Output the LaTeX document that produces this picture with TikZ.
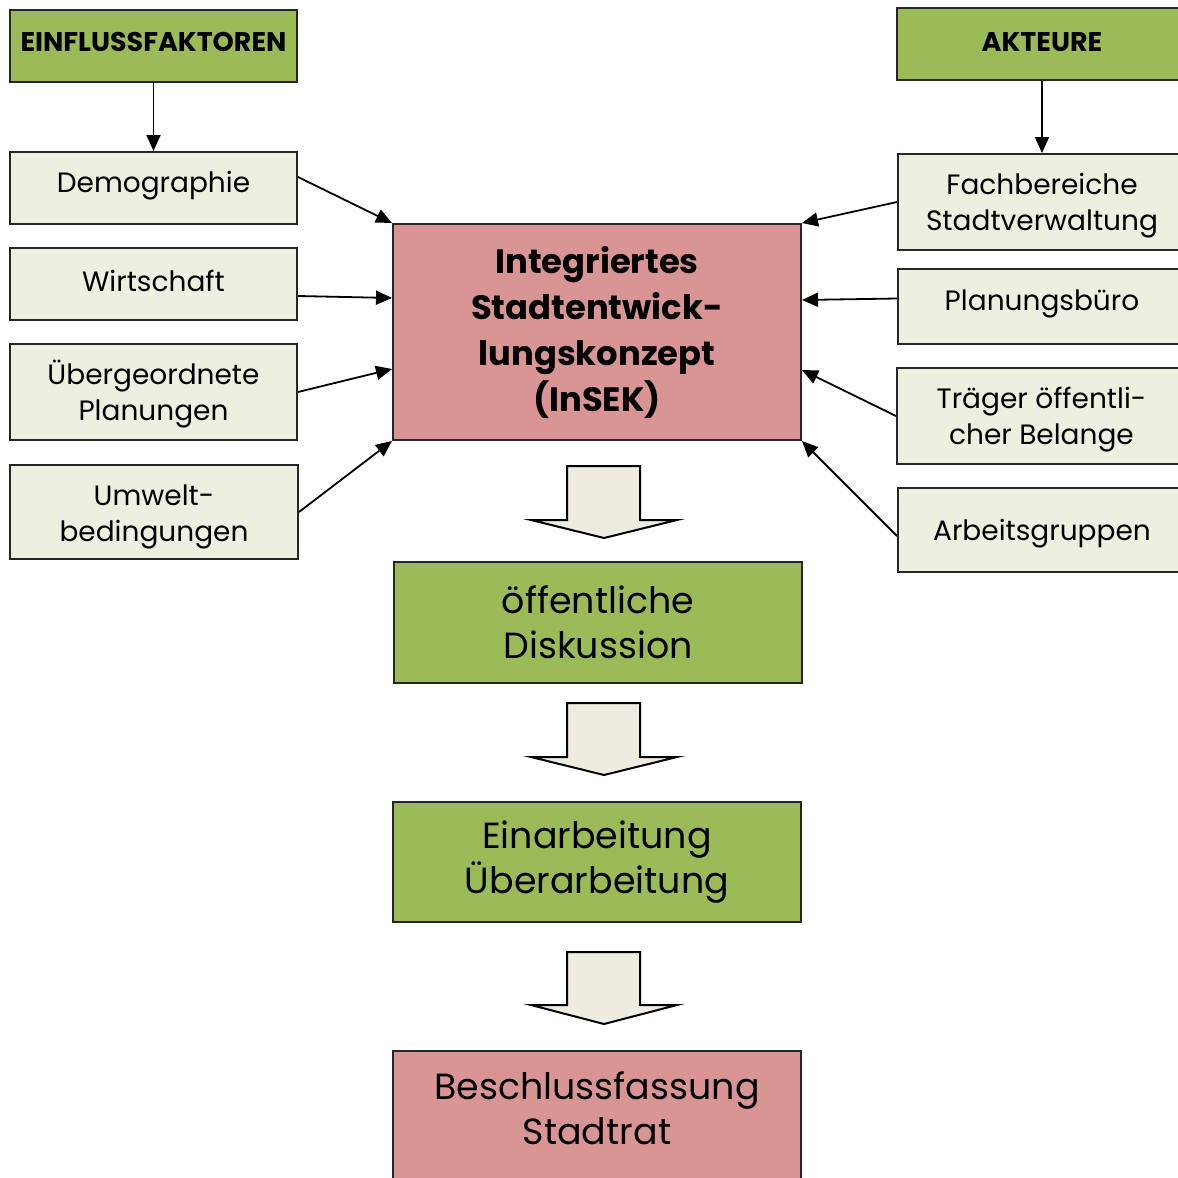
\documentclass[tikz,border=0pt]{standalone}
\usepackage{fontspec}
\setmainfont{Poppins}
\usetikzlibrary{arrows.meta,calc}
\definecolor{hgreen}{HTML}{9BBB59}
\definecolor{lgreen}{HTML}{EBF1DE}
\definecolor{hpink}{HTML}{D99594}
\definecolor{afill}{HTML}{EEECE1}
\newcommand{\shiftup}[2]{\raisebox{#1}[\height][\depth]{#2}}
\newcommand{\twolines}[3]{\shiftup{#1}{\begin{tabular}{@{}c@{}}#2\\#3\end{tabular}}}
\begin{document}
\begin{tikzpicture}[x=0.5pt,y=-0.5pt,
  base/.style={draw=black!85,line width=1pt,inner sep=0pt,align=center,text=black},
  hdr/.style={base,fill=hgreen,font=\bfseries\fontsize{13.5}{16}\selectfont},
  fac/.style={base,fill=lgreen,font=\fontsize{14}{18}\selectfont,minimum width=143.5pt},
  main/.style={base,fill=hpink,font=\bfseries\fontsize{16.9}{23}\selectfont,minimum width=204pt},
  stage/.style={base,font=\fontsize{18.2}{22.5}\selectfont,minimum width=204pt},
  conn/.style={line width=0.9pt,-{Triangle[length=8pt,width=7pt]}},
  blk/.style={draw=black,line width=1pt,fill=afill,line join=miter}]
\useasboundingbox (0,0) rectangle (1178,1178);
\clip (0,0) rectangle (1178,1178);
\fill[white] (0,0) rectangle (1178,1178);

% headers
\node[hdr,minimum width=143.5pt,minimum height=36pt] (einf) at (153.5,46) {\shiftup{2pt}{EINFLUSSFAKTOREN}};
\node[hdr,minimum width=145pt,minimum height=36pt] (akt) at (1042,44) {\shiftup{1pt}{AKTEURE}};

% left factors
\node[fac,minimum height=36pt] (demo) at (153.5,188) {\shiftup{1pt}{Demographie}};
\node[fac,minimum height=36pt] (wirt) at (153.5,284) {\shiftup{1.5pt}{Wirtschaft}};
\node[fac,minimum height=48pt] (uber) at (153.5,392) {\twolines{-1.5pt}{Übergeordnete}{Planungen}};
\node[fac,minimum height=47pt,minimum width=144pt] (umw) at (154,512) {\twolines{-2pt}{Umwelt-}{bedingungen}};

% right actors
\node[fac,minimum width=144pt,minimum height=48pt] (fach) at (1042,202) {\twolines{-1.5pt}{Fachbereiche}{Stadtverwaltung}};
\node[fac,minimum width=144pt,minimum height=37.5pt] (plan) at (1042,306.5) {\shiftup{1.5pt}{Planungsbüro}};
\node[fac,minimum width=144.5pt,minimum height=48pt] (trae) at (1041.5,416) {\twolines{-1.5pt}{Träger öffentli-}{cher Belange}};
\node[fac,minimum width=144pt,minimum height=42pt] (arb) at (1042,530) {\shiftup{-2pt}{Arbeitsgruppen}};

% central
\node[main,minimum height=108pt] (insek) at (597,332) {Integriertes\\Stadtentwick-\\lungskonzept\\(InSEK)};
\node[stage,fill=hgreen,minimum height=60.5pt] (disk) at (598,622.5) {öffentliche\\Diskussion};
\node[stage,fill=hgreen,minimum height=60pt] (einar) at (597,862) {Einarbeitung\\Überarbeitung};
\node[stage,fill=hpink,minimum height=80pt,anchor=north] (besch) at (597,1050) {Beschlussfassung\\Stadtrat\\\mbox{}};

% connectors
\draw[conn] (einf.south) -- (demo.north);
\draw[conn] (akt.south) -- (akt.south |- fach.north);
\draw[conn] ($(demo.east)+(0,-11)$) -- (insek.north west);
\draw[conn] ($(wirt.east)+(0,12)$) -- ($(insek.west)+(0,-34)$);
\draw[conn] (uber.east) -- ($(insek.west)+(0,37)$);
\draw[conn] (umw.east) -- (insek.south west);
\draw[conn] (fach.west) -- (insek.north east);
\draw[conn] ($(plan.west)+(0,-8)$) -- ($(insek.east)+(0,-32)$);
\draw[conn] (trae.west) -- ($(insek.east)+(0,38)$);
\draw[conn] ($(arb.west)+(0,6)$) -- (insek.south east);

% block arrows
\draw[blk] (567,466) -- (640,466) -- (640,520) -- (677,520) -- (604,538) -- (531,520) -- (567,520) -- cycle;
\draw[blk] (567,703) -- (640,703) -- (640,757) -- (677,757) -- (604,775) -- (531,757) -- (567,757) -- cycle;
\draw[blk] (567,952) -- (640,952) -- (640,1005) -- (677,1005) -- (604,1024) -- (531,1005) -- (567,1005) -- cycle;
\end{tikzpicture}
\end{document}
